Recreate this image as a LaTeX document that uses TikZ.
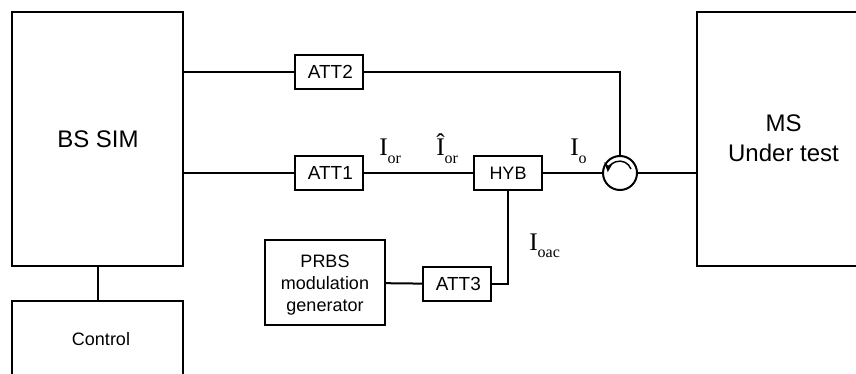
\documentclass[tikz,border=0pt]{standalone}
\usepackage{amsmath,amssymb,fontspec}
\setmainfont{Liberation Sans}
\newfontfamily\serifsym{Liberation Serif}
\usepackage{tikz}
\usetikzlibrary{positioning,arrows.meta}
\tikzset{
  block/.style={draw,line width=1.5pt,anchor=center,inner sep=0pt,align=center},
  att/.style={block,minimum width=51pt,minimum height=25pt,font=\fontsize{14.2}{16}\selectfont},
  sig/.style={font=\serifsym\fontsize{19}{21}\selectfont,inner sep=0pt,anchor=base west},
  wire/.style={line width=1.5pt}
}
\newcommand{\sigsub}[1]{\raisebox{-0.3em}{\fontsize{12}{14}\selectfont #1}}
\begin{document}
\begin{tikzpicture}[x=0.75pt,y=-0.75pt]
  \useasboundingbox (0,0) rectangle (856,374);
  \node[block,minimum width=128.25pt,minimum height=190.5pt] (bs) at (97.5,139) {};
  \node[font=\fontsize{18}{21}\selectfont] (bslabel) at (98,139) {BS SIM};
  \node[block,minimum width=128.25pt,minimum height=100pt] (control) at (97.5,367.7) {};
  \node[font=\fontsize{13.5}{16}\selectfont] (controllabel) at (101,339) {Control};
  \node[block,minimum width=150pt,minimum height=190.5pt] (ms) at (797,139) {};
  \node[font=\fontsize{18}{22.5}\selectfont,align=center] (mslabel) at (783.5,138.5) {MS\\Under test};
  \node[att] (att2) at (329,72) {\hspace{2pt}ATT2};
  \node[att] (att1) at (329,173) {\hspace{2pt}ATT1};
  \node[att,font=\fontsize{13.5}{16}\selectfont] (hyb) at (508,173) {HYB};
  \node[att] (att3) at (457,284) {\hspace{2pt}ATT3};
  \node[block,minimum width=90pt,minimum height=64pt] (prbs) at (325,282.5) {};
  \node[font=\fontsize{13.5}{16.5}\selectfont,align=center] (prbslabel) at (325,285) {PRBS\\modulation\\generator};
  \node[draw,circle,line width=1.5pt,minimum size=25.5pt,inner sep=0pt] (circ) at (620,173) {};
  \coordinate (corner) at (620,72);
  \coordinate (hybdown) at (508,284);

  \draw[wire] (bs.east |- att2) -- (att2);
  \draw[wire] (att2) -- (corner) -- (circ);
  \draw[wire] (bs.east |- att1) -- (att1);
  \draw[wire] (att1) -- (hyb);
  \draw[wire] (hyb) -- (circ);
  \draw[wire] (circ) -- (ms.west |- circ);
  \draw[wire] (bs) -- (control);
  \draw[wire] (hyb) -- (hybdown) -- (att3);
  \draw[wire] (att3) -- (prbs);
  % arrow inside the circulator
  \draw[line width=1.1pt,-{Stealth[length=7pt,width=6.5pt]}] (631,169) arc[start angle=-20,end angle=-175,radius=12];

  \node[sig] (ior) at (379,156) {I\sigsub{or}};
  \node[sig] (iorhat) at (436,156) {\^I\sigsub{or}};
  \node[sig] (io) at (570,156) {I\sigsub{o}};
  \node[sig] (ioac) at (529,250) {I\sigsub{oac}};
\end{tikzpicture}
\end{document}
